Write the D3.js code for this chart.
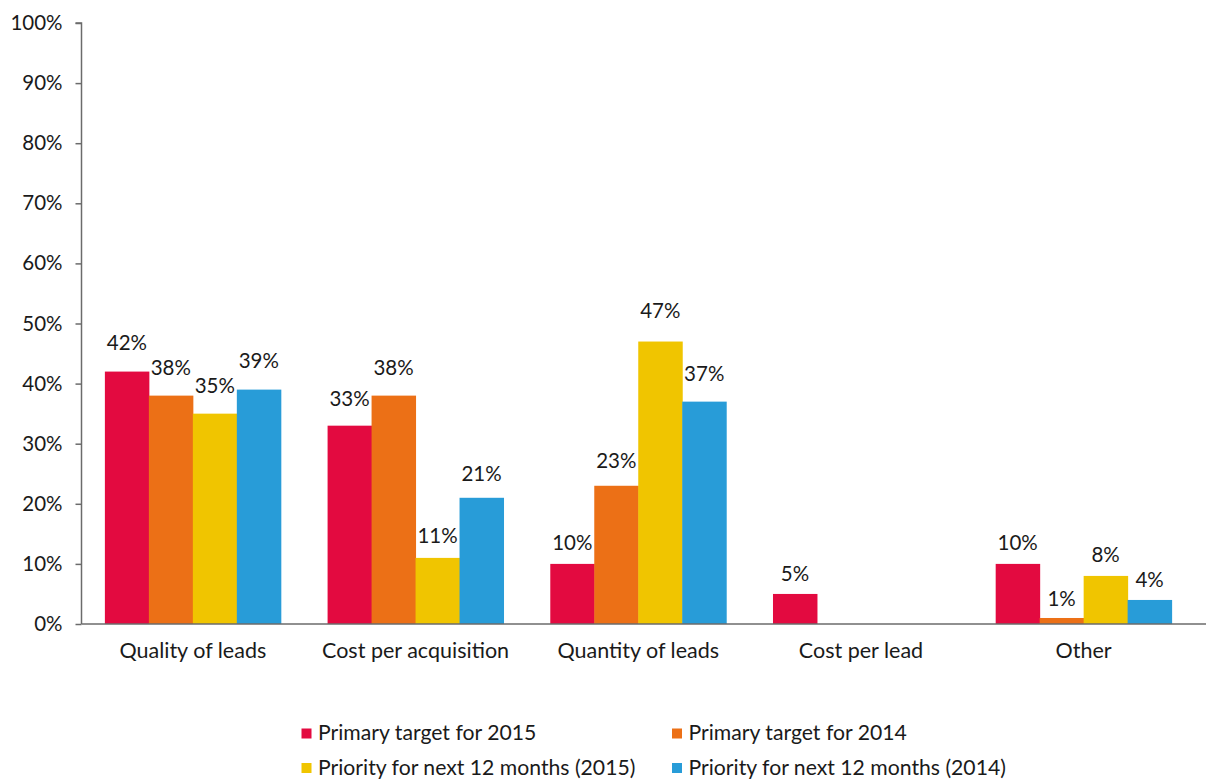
<!DOCTYPE html>
<html>
<head>
<meta charset="utf-8">
<script src="https://cdn.jsdelivr.net/npm/d3@7/dist/d3.min.js"></script>
<style>
  html, body { margin: 0; padding: 0; background: #fff; }
  svg { display: block; font-family: Lato, "Open Sans", sans-serif; }
</style>
</head>
<body>
<svg id="chart" width="1206" height="780"></svg>
<script>
// Categories and series
const categories = ["Quality of leads", "Cost per acquisition", "Quantity of leads", "Cost per lead", "Other"];
const seriesNames = [
  "Primary target for 2015",
  "Primary target for 2014",
  "Priority for next 12 months (2015)",
  "Priority for next 12 months (2014)"
];
const seriesColors = ["#E30A40", "#EC7016", "#F0C500", "#289CD8"];

// Values in percent, one array per series (null = no bar)
const primary2015  = [42, 33, 10, 5, 10];
const primary2014  = [38, 38, 23, null, 1];
const priority2015 = [35, 11, 47, null, 8];
const priority2014 = [39, 21, 37, null, 4];
const seriesValues = [primary2015, primary2014, priority2015, priority2014];

const yTicks = [0, 10, 20, 30, 40, 50, 60, 70, 80, 90, 100];

const svg = d3.select("#chart");
const axisX = 81.5, y0 = 624, y100 = 23;

const x = d3.scaleBand().domain(categories).range([axisX, 1195])
  .paddingInner(0.21).paddingOuter(0.105);
const xs = d3.scaleBand().domain(d3.range(seriesNames.length)).range([0, x.bandwidth()]);
const y = d3.scaleLinear().domain([0, 100]).range([y0, y100]);
// value labels sit a little higher the taller the bar
const yLabel = d3.scaleLinear().domain([0, 100]).range([y0 - 12, y100 - 36]);

// Bars
const rows = [];
categories.forEach((c, ci) => {
  seriesValues.forEach((vals, si) => {
    if (vals[ci] != null) rows.push({ c, si, v: vals[ci] });
  });
});

svg.append("g").selectAll("rect").data(rows).join("rect")
  .attr("x", d => x(d.c) + xs(d.si))
  .attr("width", xs.bandwidth() + 0.5)
  .attr("y", d => y(d.v))
  .attr("height", d => y0 - y(d.v))
  .attr("fill", d => seriesColors[d.si]);

// Value labels
svg.append("g").selectAll("text").data(rows).join("text")
  .attr("x", d => x(d.c) + xs(d.si) + xs.bandwidth() / 2)
  .attr("y", d => yLabel(d.v))
  .attr("text-anchor", "middle")
  .attr("font-size", 20.5)
  .attr("fill", "#1a1a1a")
  .text(d => d.v + "%");

// Y axis
const yAxis = d3.axisLeft(y).tickValues(yTicks).tickFormat(d => d + "%")
  .tickSize(6).tickPadding(13);
const gy = svg.append("g").attr("transform", `translate(${axisX},0)`).call(yAxis);
gy.select(".domain").attr("stroke", "#6b6b6b").attr("stroke-width", 1.5)
  .attr("d", `M-6,${y100}H0V${y0}`);
gy.selectAll(".tick line").attr("stroke", "#6b6b6b").attr("stroke-width", 1.5);
gy.selectAll(".tick text").attr("font-size", 20.5).attr("fill", "#1a1a1a")
  .attr("font-family", "Lato, 'Open Sans', sans-serif");

// X axis baseline and category labels
const xAxis = d3.axisBottom(x).tickSize(0).tickPadding(19);
const gx = svg.append("g").attr("transform", `translate(0,${y0})`).call(xAxis);
gx.select(".domain").attr("stroke", "#6b6b6b").attr("stroke-width", 1.5)
  .attr("d", `M${axisX},0H1206`);
gx.selectAll(".tick text").attr("font-size", 21.5).attr("fill", "#1a1a1a")
  .attr("font-family", "Lato, 'Open Sans', sans-serif");

// Legend: two columns, two rows
const legendX = [301.5, 672], legendY = [740, 774.5];
const lg = svg.append("g").selectAll("g").data(seriesNames).join("g")
  .attr("transform", (d, i) => `translate(${legendX[i % 2]},${legendY[Math.floor(i / 2)]})`);
lg.append("rect").attr("x", 0).attr("y", -11.5).attr("width", 10).attr("height", 10)
  .attr("fill", (d, i) => seriesColors[i]);
lg.append("text").attr("x", 16.5).attr("y", 0).attr("font-size", 21.2).attr("fill", "#1a1a1a")
  .text(d => d);
</script>
</body>
</html>
